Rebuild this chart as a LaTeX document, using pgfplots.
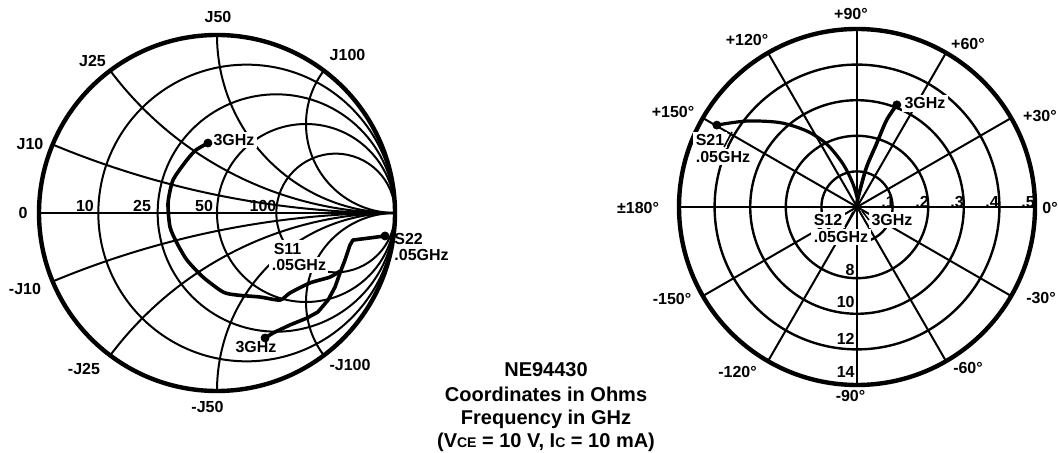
\documentclass[border=0pt]{standalone}
\usepackage{fontspec}
\setmainfont{Liberation Sans}
\usepackage{pgfplots}
\usepackage{pgfplotstable}
\pgfplotsset{compat=1.18}
\pgfplotsset{chart/.style={width=178pt, height=178pt, scale only axis, anchor=origin,
    xmin=-1, xmax=1, ymin=-1, ymax=1, hide axis, clip=false}}

% S-parameter traces, reflection plane (Gamma_r, Gamma_i)
\pgfplotstableread{
gr      gi
-0.051  0.393
-0.118  0.354
-0.169  0.298
-0.247  0.185
-0.275  0.056
-0.264 -0.079
-0.225 -0.169
-0.169 -0.264
-0.079 -0.360
 0.034 -0.444
 0.112 -0.461
 0.242 -0.472
 0.354 -0.489
 0.410 -0.449
 0.522 -0.393
 0.635 -0.360
 0.691 -0.326
}\sone
\pgfplotstableread{
gr      gi
0.944  -0.129
0.860  -0.140
0.764  -0.152
0.747  -0.180
0.719  -0.264
0.691  -0.337
0.663  -0.416
0.624  -0.489
0.567  -0.556
0.506  -0.590
0.410  -0.629
0.315  -0.674
0.270  -0.702
}\stwotwo
% transmission traces, angle (deg) and ring radius
\pgfplotstableread{
ang    rad
149.7  4.56
142.1  3.93
132.4  3.21
123.5  2.56
115.7  1.96
108.0  1.27
99.9   0.66
85.0   0.20
}\stwoone
\pgfplotstableread{
ang    rad
95.0   0.10
80.0   0.48
76.5   1.16
72.8   1.87
71.2   2.58
68.7   3.08
}\sonetwo

\begin{document}
\begin{tikzpicture}[x=1pt,y=1pt,
  lab/.style={font=\bfseries\fontsize{8}{9}\selectfont, inner sep=0.5pt},
  gap/.style={lab, fill=white, inner sep=1.2pt},
  grd/.style={line width=1pt}]
\useasboundingbox (0,0) rectangle (529,-226.5);

% ---------- Smith chart grid ----------
\begin{scope}[shift={(108.5,-106.5)}]
\begin{axis}[chart]
  \draw[grd] (axis cs:-1,0) -- (axis cs:1,0);
  % resistance circles 10, 25, 50, 100 ohm
  \draw[grd] (axis cs:0.16667,0) circle[radius=74.17pt];
  \draw[grd] (axis cs:0.33333,0) circle[radius=59.33pt];
  \draw[grd] (axis cs:0.5,0) circle[radius=44.5pt];
  \draw[grd] (axis cs:0.66667,0) circle[radius=29.67pt];
  % reactance arcs +j
  \draw[grd] (axis cs:-0.9231,0.3846) arc[start angle=247.38, end angle=270, radius=445pt];
  \draw[grd] (axis cs:-0.6,0.8) arc[start angle=216.87, end angle=270, radius=178pt];
  \draw[grd] (axis cs:0,1) arc[start angle=180, end angle=270, radius=89pt];
  \draw[grd] (axis cs:0.6,0.8) arc[start angle=143.13, end angle=270, radius=44.5pt];
  % reactance arcs -j
  \draw[grd] (axis cs:-0.9231,-0.3846) arc[start angle=112.62, end angle=90, radius=445pt];
  \draw[grd] (axis cs:-0.6,-0.8) arc[start angle=143.13, end angle=90, radius=178pt];
  \draw[grd] (axis cs:0,-1) arc[start angle=180, end angle=90, radius=89pt];
  \draw[grd] (axis cs:0.6,-0.8) arc[start angle=216.87, end angle=90, radius=44.5pt];
  \draw[line width=2.2pt] (axis cs:0,0) circle[radius=89pt];
\end{axis}
\end{scope}

% Smith chart labels
\node[lab] at (109,-8.5) {J50};
\node[lab] at (173.75,-27.25) {J100};
\node[lab] at (46.25,-30.25) {J25};
\node[lab] at (15,-71.75) {J10};
\node[lab] at (11.5,-106.5) {0};
\node[lab] at (12.5,-144.25) {-J10};
\node[lab] at (42,-184.25) {-J25};
\node[lab] at (103.75,-203.5) {-J50};
\node[lab] at (175,-182.5) {-J100};
\node[lab, anchor=base] at (42.5,-105.8) {10};
\node[lab, anchor=base] at (71,-105.8) {25};
\node[lab, anchor=base] at (102,-105.8) {50};
\node[lab, anchor=base] at (131.5,-105.8) {100};
\node[gap] at (117,-70) {3GHz};
\node[gap, anchor=west] at (135.5,-124.25) {S11};
\node[gap, anchor=west] at (134.5,-132.5) {.05GHz};
\node[gap] at (128,-173.5) {3GHz};
\node[lab, anchor=west] at (196.5,-119.5) {S22};
\node[lab, anchor=west] at (196.5,-127.5) {.05GHz};

% ---------- Smith chart data ----------
\begin{scope}[shift={(108.5,-106.5)}]
\begin{axis}[chart]
  \addplot[line width=1.8pt, smooth, tension=0.4] table[x=gr, y=gi] {\sone};
  \addplot[line width=1.8pt, line join=round] table[x=gr, y=gi] {\stwotwo};
  \addplot[only marks, mark=*, mark size=2pt] coordinates {(-0.051,0.393) (0.944,-0.129) (0.270,-0.702)};
\end{axis}
\end{scope}

% ---------- polar chart grid ----------
\begin{scope}[shift={(428.5,-103.5)}]
\begin{axis}[chart, xmin=-5, xmax=5, ymin=-5, ymax=5]
  \draw[line width=1.2pt] (axis cs:0,0) circle[radius=17.8pt];
  \draw[line width=1.2pt] (axis cs:0,0) circle[radius=35.6pt];
  \draw[line width=1.2pt] (axis cs:0,0) circle[radius=53.4pt];
  \draw[line width=1.2pt] (axis cs:0,0) circle[radius=71.2pt];
  \draw[grd] (axis cs:0,0) -- ++(0:89pt);
  \draw[grd] (axis cs:0,0) -- ++(30:89pt);
  \draw[grd] (axis cs:0,0) -- ++(60:89pt);
  \draw[grd] (axis cs:0,0) -- ++(90:89pt);
  \draw[grd] (axis cs:0,0) -- ++(120:89pt);
  \draw[grd] (axis cs:0,0) -- ++(150:89pt);
  \draw[grd] (axis cs:0,0) -- ++(180:89pt);
  \draw[grd] (axis cs:0,0) -- ++(210:89pt);
  \draw[grd] (axis cs:0,0) -- ++(240:89pt);
  \draw[grd] (axis cs:0,0) -- ++(270:89pt);
  \draw[grd] (axis cs:0,0) -- ++(300:89pt);
  \draw[grd] (axis cs:0,0) -- ++(330:89pt);
  \draw[line width=2.2pt] (axis cs:0,0) circle[radius=89pt];
\end{axis}
\end{scope}

% polar chart labels
\node[lab] at (425.5,-7) {+90°};
\node[lab] at (373.5,-20) {+120°};
\node[lab] at (484,-21.75) {+60°};
\node[lab] at (336.5,-56) {+150°};
\node[lab] at (520,-58.25) {+30°};
\node[lab] at (319,-103.75) {±180°};
\node[lab] at (525,-103.75) {0°};
\node[lab] at (336,-149.5) {-150°};
\node[lab] at (520.5,-149) {-30°};
\node[lab] at (368.75,-185.75) {-120°};
\node[lab] at (484,-183.75) {-60°};
\node[lab] at (425.25,-197.75) {-90°};
\node[lab] at (444,-101) {.1};
\node[lab] at (461,-101) {.2};
\node[lab] at (478.5,-101) {.3};
\node[lab] at (496,-101) {.4};
\node[lab] at (514,-101) {.5};
\node[lab, anchor=east] at (428,-135) {8};
\node[lab, anchor=east] at (428,-151) {10};
\node[lab, anchor=east] at (428,-169.5) {12};
\node[lab, anchor=east] at (428,-186) {14};
\node[gap] at (355,-70) {S21};
\node[gap] at (361.5,-78.5) {.05GHz};
\draw[line width=0.8pt] (362,-73.5) -- (366,-66);
\node[gap] at (414,-110) {S12};
\node[gap] at (420.5,-118.5) {.05GHz};
\draw[line width=0.8pt] (422.5,-113.5) -- (426.5,-106);
\node[gap] at (446,-110) {3GHz};
\draw[line width=0.8pt] (431,-105.5) -- (434.5,-110);
\node[gap] at (462.5,-51.75) {3GHz};

% ---------- polar chart data ----------
\begin{scope}[shift={(428.5,-103.5)}]
\begin{axis}[chart, xmin=-5, xmax=5, ymin=-5, ymax=5]
  \addplot[data cs=polar, line width=1.6pt, smooth, tension=0.5] table[x=ang, y=rad] {\stwoone};
  \addplot[data cs=polar, line width=1.8pt, smooth, tension=0.5] table[x=ang, y=rad] {\sonetwo};
  \addplot[data cs=polar, only marks, mark=*, mark size=2pt] coordinates {(149.7,4.56) (68.7,3.08)};
\end{axis}
\end{scope}

% caption block
\begin{scope}[every node/.style={font=\bfseries\fontsize{10}{12}\selectfont, inner sep=0pt, anchor=base}]
\node at (273,-188.5) {NE94430};
\node at (273,-200.5) {Coordinates in Ohms};
\node at (273,-212) {Frequency in GHz};
\node at (273,-223.5) {(V{\fontsize{7}{8}\selectfont CE} = 10 V, I{\fontsize{7}{8}\selectfont C} = 10 mA)};
\end{scope}
\end{tikzpicture}
\end{document}
